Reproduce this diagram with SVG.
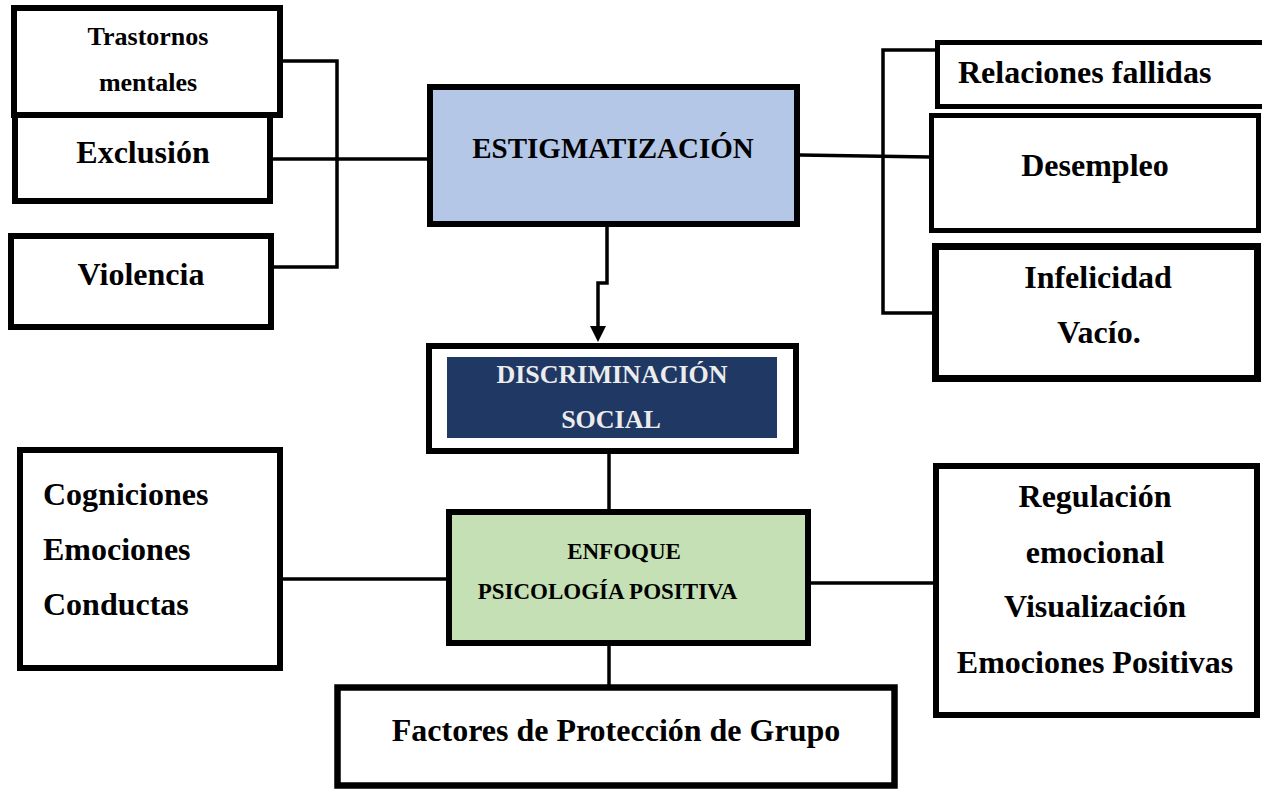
<svg xmlns="http://www.w3.org/2000/svg" width="1262" height="790" viewBox="0 0 1262 790">
<style>
.box{fill:#fff;stroke:#000;stroke-width:6}
.t{font-family:"Liberation Serif","Times New Roman",serif;font-weight:bold;fill:#000;font-size:32px}
.c{text-anchor:middle}
.conn{fill:none;stroke:#000;stroke-width:3.5}
</style>
<defs>
<marker id="arrow" markerUnits="userSpaceOnUse" markerWidth="17" markerHeight="17" refX="0" refY="8" orient="auto">
<path d="M0,0 L16,8 L0,16 z" fill="#000"/>
</marker>
</defs>
<rect width="1262" height="790" fill="#fff"/>
<g id="connectors">
<path class="conn" d="M283,61 H337 V267 H274"/>
<path class="conn" d="M273,159 H430"/>
<path class="conn" d="M800,155 L930,157"/>
<path class="conn" d="M935,50 H883 V313 H932"/>
<path class="conn" d="M607,227 V283 H598 V326" marker-end="url(#arrow)"/>
<path class="conn" d="M609,454 V509"/>
<path class="conn" d="M281,579 H446"/>
<path class="conn" d="M811,583 H933"/>
<path class="conn" d="M609,646 V685"/>
</g>
<g id="exclusion">
<rect class="box" x="15" y="110" width="255" height="91"/>
<text class="t c" x="143" y="163">Exclusión</text>
</g>
<g id="trastornos">
<rect class="box" x="14" y="8" width="266" height="107"/>
<text class="t c" x="148" y="45" style="font-size:26px">Trastornos</text>
<text class="t c" x="148" y="91" style="font-size:26px">mentales</text>
</g>
<g id="violencia">
<rect class="box" x="11" y="236" width="260" height="91"/>
<text class="t c" x="141" y="285">Violencia</text>
</g>
<g id="estigmatizacion">
<rect class="box" x="430" y="87" width="367" height="137" style="fill:#b4c7e7"/>
<text class="t c" x="613" y="158" style="font-size:29px">ESTIGMATIZACIÓN</text>
</g>
<g id="discriminacion">
<rect class="box" x="429" y="346" width="367" height="105"/>
<rect x="447" y="357" width="330" height="81" fill="#203864"/>
<text class="t c" x="612" y="383" style="font-size:26px;fill:#ececec">DISCRIMINACIÓN</text>
<text class="t c" x="611" y="428" style="font-size:26px;fill:#ececec">SOCIAL</text>
</g>
<g id="relaciones">
<rect class="box" x="937.5" y="42.5" width="340" height="64" style="stroke-width:5"/>
<text class="t" x="958" y="83">Relaciones fallidas</text>
</g>
<g id="desempleo">
<rect class="box" x="931.5" y="115.5" width="327" height="115" style="stroke-width:5"/>
<text class="t c" x="1095" y="176">Desempleo</text>
</g>
<g id="infelicidad">
<rect class="box" x="935.5" y="246.5" width="322" height="132" style="stroke-width:7"/>
<text class="t c" x="1098" y="288">Infelicidad</text>
<text class="t c" x="1099" y="343">Vacío.</text>
</g>
<g id="cogniciones">
<rect class="box" x="20" y="450" width="260" height="218"/>
<text class="t" x="43" y="505">Cogniciones</text>
<text class="t" x="43" y="560">Emociones</text>
<text class="t" x="43" y="615">Conductas</text>
</g>
<g id="enfoque">
<rect class="box" x="449" y="512" width="359" height="131" style="fill:#c5e0b4"/>
<text class="t c" x="624" y="559" style="font-size:23px">ENFOQUE</text>
<text class="t c" x="607.5" y="599" style="font-size:23px">PSICOLOGÍA POSITIVA</text>
</g>
<g id="regulacion">
<rect class="box" x="936" y="466" width="321" height="249"/>
<text class="t c" x="1095" y="507">Regulación</text>
<text class="t c" x="1095" y="563">emocional</text>
<text class="t c" x="1095" y="617">Visualización</text>
<text class="t c" x="1095" y="673">Emociones Positivas</text>
</g>
<g id="factores">
<rect class="box" x="337.5" y="687.5" width="557" height="98" style="stroke-width:6.5"/>
<text class="t c" x="616" y="741">Factores de Protección de Grupo</text>
</g>
</svg>
